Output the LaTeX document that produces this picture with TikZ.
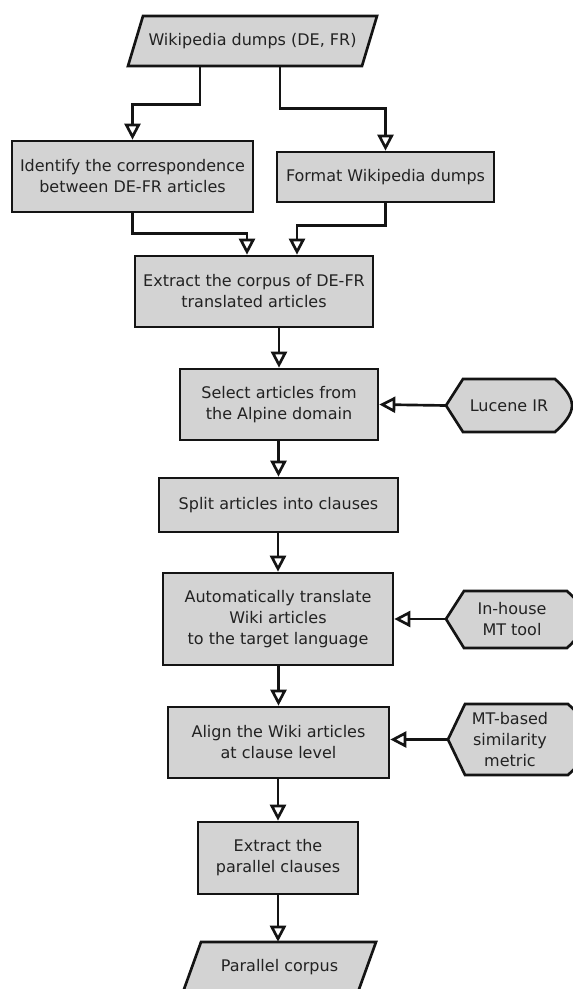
\documentclass[tikz,border=0pt]{standalone}
\usepackage{fontspec}
\setmainfont{DejaVu Sans}
\usetikzlibrary{arrows.meta,calc}
\definecolor{boxfill}{HTML}{D3D3D3}
\definecolor{linec}{HTML}{141414}
\definecolor{txtc}{HTML}{222222}
\begin{document}
\begin{tikzpicture}[x=0.75pt,y=-0.75pt,
  every node/.style={font=\fontsize{12pt}{15.75pt}\selectfont, text=txtc},
  box/.style={draw=linec, fill=boxfill, line width=2pt, align=center, inner sep=0pt, line join=miter},
  shp/.style={draw=linec, fill=boxfill, line width=2pt, line join=miter},
  lbl/.style={align=center, inner sep=0pt, draw=none},
  arr/.style={draw=linec, line width=2pt, -{Triangle[open, fill=white, length=12pt, width=12pt]}}]
\useasboundingbox (0,0) rectangle (573,989);

% top parallelogram
\draw[shp] (143,16) -- (377,16) -- (362,66) -- (128,66) -- cycle;
\node[lbl, minimum width=234*0.75pt, minimum height=50*0.75pt] (wiki) at (252.5,41) {Wikipedia dumps (DE, FR)};

\node[box, minimum width=241*0.75pt, minimum height=71*0.75pt] (ident) at (132.5,176.5) {Identify the correspondence\\between DE-FR articles};
\node[box, minimum width=217*0.75pt, minimum height=50*0.75pt] (format) at (385.5,177) {Format Wikipedia dumps};
\node[box, minimum width=238*0.75pt, minimum height=71*0.75pt] (extract) at (254,291.5) {Extract the corpus of DE-FR\\translated articles};
\node[box, minimum width=198*0.75pt, minimum height=71*0.75pt] (select) at (279,404.5) {Select articles from\\the Alpine domain};
\node[box, minimum width=239*0.75pt, minimum height=54*0.75pt] (split) at (278.5,505) {Split articles into clauses};
\node[box, minimum width=230*0.75pt, minimum height=92*0.75pt] (transl) at (278,619) {Automatically translate\\Wiki articles\\to the target language};
\node[box, minimum width=221*0.75pt, minimum height=71*0.75pt] (align) at (278.5,742.5) {Align the Wiki articles\\at clause level};
\node[box, minimum width=160*0.75pt, minimum height=72*0.75pt] (extpar) at (278,858) {Extract the\\parallel clauses};

% bottom parallelogram
\draw[shp] (201,942) -- (376,942) -- (358,992) -- (183,992) -- cycle;
\node[lbl, minimum width=175*0.75pt, minimum height=50*0.75pt] (parcorp) at (279.5,967) {Parallel corpus};

% display shapes
\draw[shp] (446,405.5) -- (463,379) -- (555,379) .. controls (565,388) and (572,397) .. (572,405.5) .. controls (572,414) and (565,423) .. (555,432) -- (463,432) -- cycle;
\node[lbl, minimum width=126*0.75pt, minimum height=53*0.75pt] (lucene) at (509,405.5) {Lucene IR};

\draw[shp] (446,619) -- (464,591) -- (567,591) .. controls (578,601) and (585,610) .. (585,619) .. controls (585,628) and (578,638) .. (567,648) -- (464,648) -- cycle;
\node[lbl, minimum width=132*0.75pt, minimum height=57*0.75pt] (inhouse) at (512,619) {In-house\\MT tool};

\draw[shp] (448,739.5) -- (465,704) -- (568,704) .. controls (581,716) and (590,728) .. (590,739.5) .. controls (590,751) and (581,763) .. (568,775) -- (465,775) -- cycle;
\node[lbl, minimum width=124*0.75pt, minimum height=71*0.75pt] (mtsim) at (510,739.5) {MT-based\\similarity\\metric};

% connectors
\draw[arr] (wiki.south) ++(-52.5,0) -- ++(0,38) -| (ident.north);
\draw[arr] (wiki.south) ++(27.5,0) -- ++(0,42) -| (format.north);
\draw[arr] (ident.south) -- ++(0,20) -| ($(extract.north)+(-7,0)$);
\draw[arr] (format.south) -- ++(0,22) -| ($(extract.north)+(43,0)$);
\draw[arr] (extract.south -| select.north) -- (select.north);
\draw[arr] (lucene.west) -- (select.east);
\draw[arr] (select.south -| split.north) -- (split.north);
\draw[arr] (split.south -| transl.north) -- (transl.north);
\draw[arr] (inhouse.west) -- (inhouse.west -| transl.east);
\draw[arr] (transl.south -| align.north) -- (align.north);
\draw[arr] (mtsim.west) -- (mtsim.west -| align.east);
\draw[arr] (align.south -| extpar.north) -- (extpar.north);
\draw[arr] (extpar.south) -- (extpar.south |- parcorp.north);
\end{tikzpicture}
\end{document}
